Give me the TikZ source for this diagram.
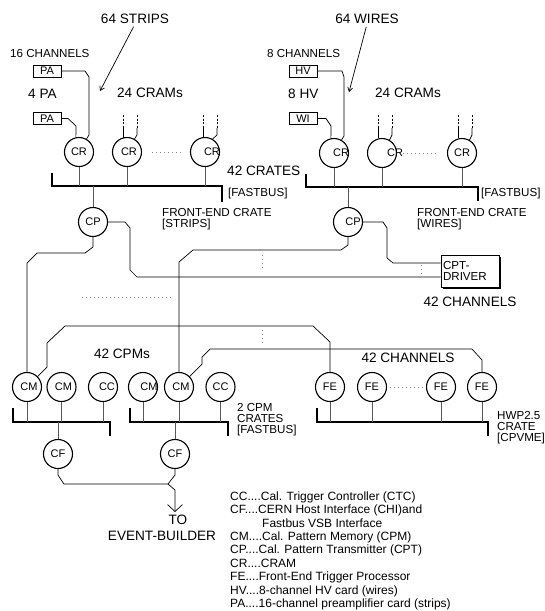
\documentclass[tikz,border=0pt]{standalone}
\usepackage{fontspec}
\setmainfont{Liberation Sans}
\usetikzlibrary{arrows.meta,shadows}
\begin{document}
\begin{tikzpicture}[x=1pt,y=-1pt,
  ckt/.style={circle,draw,line width=1.1pt,minimum size=29pt,inner sep=0pt},
  card/.style={draw,line width=0.7pt,minimum width=28pt,minimum height=12pt,inner sep=0pt,font=\fontsize{11}{11}\selectfont},
  wire/.style={line width=0.7pt},
  stem/.style={line width=0.9pt,black!65},
  bus/.style={line width=1.8pt},
  dots/.style={black!45,line width=0.7pt,dash pattern=on 0.7pt off 3.3pt},
  big/.style={font=\fontsize{13.6}{14}\selectfont,inner sep=0pt},
  mid/.style={font=\fontsize{11.6}{11}\selectfont,inner sep=0pt,align=left},
  cl/.style={font=\fontsize{11}{11}\selectfont},
  leg/.style={font=\fontsize{12}{12}\selectfont,inner sep=0pt,anchor=base west},
  dash top/.style={wire,dash pattern=on 2pt off 1.5pt},
]
\useasboundingbox (0,0) rectangle (545,611);

% ---------- top labels ----------
\node[big] (strips) at (135,19) {64 STRIPS};
\node[big] (wires) at (367,19) {64 WIRES};
\coordinate (sa) at (100,91);
\coordinate (wa) at (349,92);
\draw[wire,-{Straight Barb[length=4pt,width=5pt]},shorten <=3pt] (strips.south) -- (sa);
\draw[wire,-{Straight Barb[length=4pt,width=5pt]},shorten <=3pt] (wires.south) -- (wa);

\node[mid,anchor=west] (ch16) at (10,54) {16 CHANNELS};
\node[mid,anchor=west] (ch8) at (267,54) {8 CHANNELS};
\node[big,anchor=west] (pa4) at (28,94) {4 PA};
\node[big,anchor=west] (hv8) at (288,94) {8 HV};
\node[big] (cram1) at (150,93) {24 CRAMs};
\node[big] (cram2) at (408,93) {24 CRAMs};

\node[card] (pa1) at (47,71) {PA};
\node[card] (pa2) at (47,118.5) {PA};
\node[card] (hv) at (303,71) {HV};
\node[card] (wi) at (303,118.5) {WI};

% ---------- CRAMs ----------
\node[ckt,label={[cl]center:CR}] (cr1) at (79,152) {};
\node[ckt,label={[cl,xshift=2pt]center:CR}] (cr2) at (127,152) {};
\node[ckt,label={[cl,xshift=7pt]center:CR}] (cr3) at (205,152) {};
\node[ckt,label={[cl,xshift=7pt]center:CR}] (cr4) at (334,153) {};
\node[ckt,label={[cl,xshift=13pt]center:CR}] (cr5) at (382,153) {};
\node[ckt,label={[cl]center:CR}] (cr6) at (462,153) {};

\draw[wire] (pa1.east) -- (85,71) -- (89,77) -- (89,135) -- (cr1.60);
\draw[wire] (pa2.east) -- (68,118.5) -- (76,126) -- (cr1.102);
\draw[wire] (hv.east) -- (342,71) -- (344,77) -- (344,136) -- (cr4.60);
\draw[wire] (wi.east) -- (326,118.5) -- (331,126) -- (cr4.102);

% inputs of other CRAMs
\foreach \c/\xl/\xr in {cr2/123/137,cr3/203/217,cr5/378/392,cr6/458/472}{
  \draw[dash top] (\xl,115) -- (\xl,128);
  \draw[dash top] (\xr,115) -- (\xr,128);
  \draw[wire] (\xl,128) -- (\xl,137.5);
  \draw[wire] (\xr,128) -- (\xr,135) -- (\c.60);
}

\draw[dots,shorten <=10pt,shorten >=8pt] (cr2) -- (cr3);
\draw[dots,shorten <=6pt,shorten >=10pt] (cr5) -- (cr6);

% ---------- front-end crate buses ----------
\coordinate (bs) at (0,186);
\coordinate (bw) at (0,187);
\draw[bus] (52,173) -- (52,186) -- (222,186) -- (222,202);
\draw[bus] (306,174) -- (306,187) -- (478,187) -- (478,201);
\foreach \c in {cr1,cr2,cr3} \draw[stem] (\c.south) -- (\c.south |- bs);
\foreach \c in {cr4,cr5,cr6} \draw[stem] (\c.south) -- (\c.south |- bw);

\node[big,anchor=west] (crates) at (227,171) {42 CRATES};
\node[mid,anchor=west] (fb1) at (228,193) {[FASTBUS]};
\node[mid,anchor=west] (fb2) at (481,193) {[FASTBUS]};
\node[mid,anchor=west] (fes) at (162,219.5) {FRONT-END CRATE\\{}[STRIPS]};
\node[mid,anchor=west] (few) at (417,219.5) {FRONT-END CRATE\\{}[WIRES]};

% ---------- CPTs ----------
\node[ckt,label={[cl]center:CP}] (cp1) at (93,222) {};
\node[ckt,label={[cl,xshift=5pt]center:CP}] (cp2) at (348,222) {};
\draw[stem] (cp1.north |- bs) -- (cp1.north);
\draw[stem] (cp2.north |- bw) -- (cp2.north);

\node[draw,line width=0.8pt,fill=white,minimum width=58pt,minimum height=32pt,
  text width=54pt,inner sep=2pt,align=left,font=\fontsize{11.6}{10.5}\selectfont,
  drop shadow={shadow xshift=1.8pt,shadow yshift=-1.8pt,fill=black,opacity=1}]
  (drv) at (470,271) {CPT-\\DRIVER};
\node[big] (ch42a) at (470,302) {42 CHANNELS};
\coordinate (din1) at (0,263);
\coordinate (din2) at (0,277);

\draw[wire] (cp1.east) -- (125,222) -- (130,228) -- (130,270) -- (137,277) -- (drv.west |- din2);
\draw[wire] (cp2.east) -- (383,222) -- (387,228) -- (387,258) -- (393,263) -- (drv.west |- din1);

% ---------- CPMs ----------
\node[ckt,label={[cl,xshift=2pt]center:CM}] (cm1) at (27,387) {};
\node[ckt,label={[cl,xshift=2pt]center:CM}] (cm2) at (61.5,387) {};
\node[ckt,label={[cl,xshift=4pt]center:CC}] (cc1) at (103,387) {};
\node[ckt,label={[cl,xshift=6pt]center:CM}] (cm3) at (143,387) {};
\node[ckt,label={[cl,xshift=2pt]center:CM}] (cm5) at (179,387) {};
\node[ckt,label={[cl]center:CC}] (cc2) at (220.5,387) {};

\draw[wire] (cp1.south) -- (93,247) -- (85,253) -- (37,253) -- (27,263) -- (cm1.north);
\draw[wire] (cp2.south) -- (348,245) -- (341,250) -- (193,250) -- (179,262) -- (cm5.north);

% ---------- FE processors ----------
\node[ckt,label={[cl]center:FE}] (fe1) at (330,387) {};
\node[ckt,label={[cl]center:FE}] (fe2) at (372,387) {};
\node[ckt,label={[cl]center:FE}] (fe3) at (441,387) {};
\node[ckt,label={[cl]center:FE}] (fe4) at (482,387) {};
\draw[dots,shorten <=3pt,shorten >=2pt] (fe2) -- (fe3);

\draw[wire] (cm1.45) -- (47,367) -- (47,343) -- (65,326) -- (313,326) -- (330,342) -- (fe1.north);
\draw[wire] (cm5.45) -- (202,364) -- (202,357) -- (210,349) -- (472,349) -- (482,360) -- (fe4.north);

\node[big] (cpms) at (122,354) {42 CPMs};
\node[big] (ch42b) at (408,358) {42 CHANNELS};

% dotted hints
\coordinate (d1a) at (262,255); \coordinate (d1b) at (262,270);
\coordinate (d2a) at (262,330); \coordinate (d2b) at (262,345);
\coordinate (d3a) at (421,265); \coordinate (d3b) at (421,274);
\coordinate (d4a) at (82,297);  \coordinate (d4b) at (173,297);
\draw[dots] (d1a) -- (d1b);
\draw[dots] (d2a) -- (d2b);
\draw[dots] (d3a) -- (d3b);
\draw[dots] (d4a) -- (d4b);

% ---------- lower buses ----------
\coordinate (bl) at (0,422);
\draw[bus] (13,408) -- (13,422) -- (110,422) -- (110,436);
\draw[bus] (130,408) -- (130,422) -- (228,422) -- (228,436);
\draw[bus] (317,408) -- (317,422) -- (488,422) -- (488,436);
\foreach \c in {cm1,cm2,cc1,cm3,cm5,cc2,fe1,fe2,fe3,fe4} \draw[stem] (\c.south) -- (\c.south |- bl);

\node[mid,anchor=west] (cpmcr) at (237,420) {2 CPM\\CRATES\\{}[FASTBUS]};
\node[mid,anchor=west] (hwp) at (497,428) {HWP2.5\\CRATE\\{}[CPVME]};

% ---------- CHI ----------
\node[ckt,label={[cl]center:CF}] (cf1) at (58,454) {};
\node[ckt,label={[cl]center:CF}] (cf2) at (175,454) {};
\draw[stem] (cf1.north |- bl) -- (cf1.north);
\draw[stem] (cf2.north |- bl) -- (cf2.north);
\coordinate (jn) at (168,484);
\coordinate (eb) at (175,512);
\draw[wire] (cf1.south) -- (58,475) -- (64,484) -- (jn);
\draw[wire] (cf2.south) -- (175,475) -- (jn);
\draw[wire,-{Straight Barb[length=7pt,width=15pt]}] (jn) -- (175,490) -- (eb);
\node[big] (to) at (178,520) {TO};
\node[big] (evb) at (162,536) {EVENT-BUILDER};

% ---------- legend ----------
\node[leg] (l1) at (230,500.3) {CC....Cal. Trigger Controller (CTC)};
\node[leg] (l2) at (230,513.7) {CF....CERN Host Interface (CHI)and};
\node[leg] (l3) at (262,527.1) {Fastbus VSB Interface};
\node[leg] (l4) at (230,540.5) {CM....Cal. Pattern Memory (CPM)};
\node[leg] (l5) at (230,553.9) {CP....Cal. Pattern Transmitter (CPT)};
\node[leg] (l6) at (230,567.3) {CR....CRAM};
\node[leg] (l7) at (230,580.7) {FE....Front-End Trigger Processor};
\node[leg] (l8) at (230,594.1) {HV....8-channel HV card (wires)};
\node[leg] (l9) at (230,607.5) {PA....16-channel preamplifier card (strips)};
\end{tikzpicture}
\end{document}
